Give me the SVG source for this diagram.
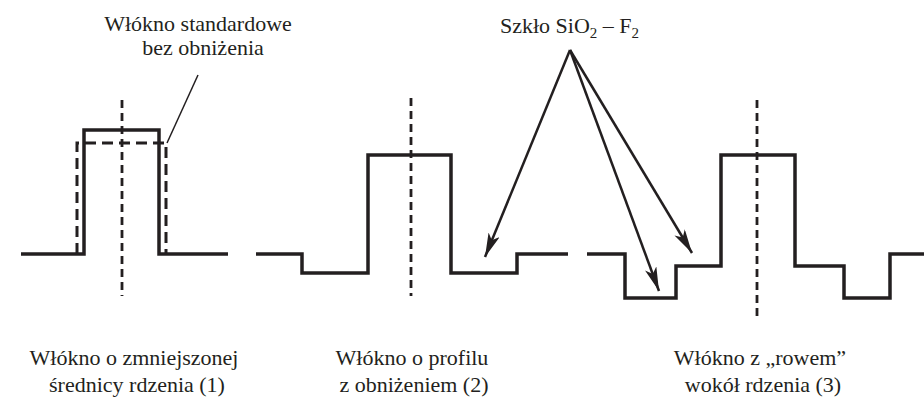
<svg xmlns="http://www.w3.org/2000/svg" width="924" height="402" viewBox="0 0 924 402">
  <style>
    .lbl { font-family: 'Liberation Serif', Tinos, 'Times New Roman', 'DejaVu Serif', serif; font-size: 22px; fill: #231f20; text-anchor: middle; }
    .prof { fill: none; stroke: #231f20; stroke-width: 3.5; stroke-linejoin: miter; }
    .axis { fill: none; stroke: #231f20; stroke-width: 2.8; stroke-dasharray: 8 5; }
    .std { fill: none; stroke: #231f20; stroke-width: 3; stroke-dasharray: 11 6; }
    .lead { fill: none; stroke: #231f20; stroke-width: 1.5; }
    .arr { fill: none; stroke: #231f20; stroke-width: 2.5; marker-end: url(#head); }
  </style>
  <defs>
    <marker id="head" viewBox="0 0 24 12" refX="24" refY="6" markerWidth="24" markerHeight="12" markerUnits="userSpaceOnUse" orient="auto">
      <path d="M0,0 L24,6 L0,12 L6,6 Z" fill="#231f20"/>
    </marker>
  </defs>
  <rect width="924" height="402" fill="#ffffff"/>

  <!-- fibre 1: reduced core diameter -->
  <g id="fiber1">
    <line class="axis" x1="122" y1="100" x2="122" y2="296"/>
    <polyline class="std" points="77,254 77,143 166,143 166,254"/>
    <polyline class="prof" points="21,254 84,254 84,130 159,130 159,254 228,254"/>
    <text class="lbl" x="134" y="365">Włókno o zmniejszonej</text>
    <text class="lbl" x="137" y="392">średnicy rdzenia (1)</text>
  </g>

  <!-- note for the standard profile -->
  <g id="std-note">
    <line class="lead" x1="198" y1="75" x2="167" y2="143"/>
    <text class="lbl" x="198" y="31">Włókno standardowe</text>
    <text class="lbl" x="203" y="55">bez obniżenia</text>
  </g>

  <!-- fibre 2: depressed cladding -->
  <g id="fiber2">
    <line class="axis" x1="411" y1="98" x2="411" y2="296"/>
    <polyline class="prof" points="256,254 302,254 302,273 368,273 368,155 451,155 451,273 517,273 517,254 568,254"/>
    <text class="lbl" x="412" y="365">Włókno o profilu</text>
    <text class="lbl" x="414" y="392">z obniżeniem (2)</text>
  </g>

  <!-- fibre 3: trench around the core -->
  <g id="fiber3">
    <line class="axis" x1="757" y1="100" x2="757" y2="318"/>
    <polyline class="prof" points="587,254 625,254 625,298 676,298 676,266 721,266 721,155 795,155 795,266 844,266 844,298 890,298 890,254 926,254"/>
    <text class="lbl" x="760" y="365">Włókno z „rowem”</text>
    <text class="lbl" x="763" y="392">wokół rdzenia (3)</text>
  </g>

  <!-- fluorine-doped glass label -->
  <g id="glass-note">
    <text class="lbl" x="500" y="33" style="text-anchor:start">Szkło SiO<tspan font-size="15" dy="5">2</tspan><tspan dy="-5"> – F</tspan><tspan font-size="15" dy="5">2</tspan></text>
  </g>

  <g id="connectors">
    <line class="arr" x1="570" y1="50" x2="485" y2="257"/>
    <line class="arr" x1="570" y1="50" x2="659" y2="291"/>
    <line class="arr" x1="570" y1="50" x2="692" y2="253"/>
  </g>
</svg>
